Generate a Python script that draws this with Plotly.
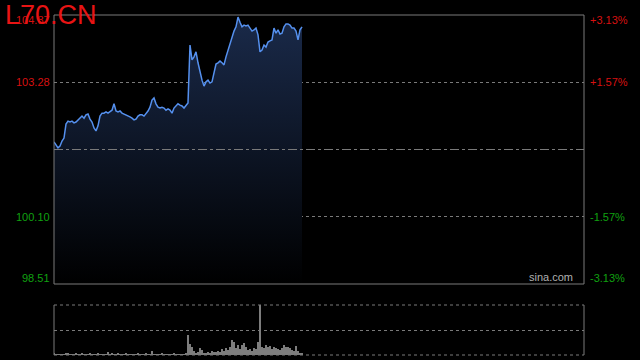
import plotly.graph_objects as go

title_text = "L70.CN"
base_price = 101.69
left_ticks = [98.51, 100.10, 103.28, 104.87]
right_ticks = ["-3.13%", "-1.57%", "+1.57%", "+3.13%"]
total_slots = 265

prices = [
    101.87, 101.80, 101.73, 101.77, 101.89, 101.96, 102.29, 102.36, 102.34, 102.36,
    102.32, 102.34, 102.39, 102.43, 102.48, 102.43, 102.51, 102.53, 102.41, 102.34,
    102.20, 102.13, 102.25, 102.48, 102.55, 102.55, 102.58, 102.55, 102.58, 102.62,
    102.77, 102.60, 102.58, 102.60, 102.55, 102.53, 102.51, 102.48, 102.46, 102.43,
    102.39, 102.41, 102.48, 102.51, 102.51, 102.48, 102.53, 102.60, 102.69, 102.86,
    102.91, 102.77, 102.69, 102.67, 102.69, 102.67, 102.62, 102.65, 102.62, 102.55,
    102.67, 102.72, 102.77, 102.74, 102.72, 102.67, 102.74, 102.79, 104.16, 103.81,
    103.88, 104.00, 103.74, 103.52, 103.33, 103.19, 103.29, 103.33, 103.26, 103.29,
    103.48, 103.71, 103.74, 103.78, 103.74, 103.69, 103.88, 104.04, 104.18, 104.33,
    104.49, 104.59, 104.82, 104.70, 104.59, 104.63, 104.61, 104.63, 104.56, 104.49,
    104.52, 104.56, 104.40, 104.00, 104.04, 104.16, 104.11, 104.23, 104.26, 104.28,
    104.56, 104.44, 104.52, 104.42, 104.44, 104.59, 104.66, 104.66, 104.63, 104.56,
    104.56, 104.49, 104.28, 104.52, 104.59,
]

volumes = [
    3, 2, 2, 1, 2, 1, 3, 4, 2, 1,
    2, 5, 2, 1, 3, 2, 1, 2, 3, 1,
    2, 1, 4, 2, 1, 2, 1, 6, 2, 3,
    1, 2, 4, 1, 2, 1, 3, 2, 1, 2,
    1, 2, 5, 1, 2, 1, 3, 2, 1, 9,
    2, 1, 2, 1, 3, 1, 2, 1, 2, 1,
    3, 2, 1, 2, 1, 2, 3,
    41, 22, 16, 8, 5, 6, 14, 10, 5, 4,
    6, 4, 8, 7, 6, 9, 7, 12, 8, 14,
    10, 16, 31, 27, 15, 20, 12, 20, 24, 16,
    10, 12, 9, 14, 12, 27, 100, 16, 14, 20,
    17, 18, 12, 16, 14, 12, 10, 14, 20, 16,
    17, 14, 10, 8, 18, 8, 5, 3,
]

n = min(len(prices), len(volumes))
prices = prices[:n]
volumes = volumes[:n]
xs = list(range(n))
ymin, ymax = left_ticks[0], left_ticks[-1]

RED = "#d81010"
GREEN = "#10a010"
GRAY = "#7a7a7a"

fig = go.Figure()
fig.add_trace(go.Scatter(x=xs, y=[ymin] * n, mode="lines", line=dict(width=0),
                         hoverinfo="skip", showlegend=False, xaxis="x", yaxis="y"))
fig.add_trace(go.Scatter(
    x=xs, y=prices, mode="lines", fill="tonexty",
    fillgradient=dict(type="vertical", start=ymin, stop=ymax,
                      colorscale=[[0, "rgb(0,0,0)"], [1, "rgb(26,42,74)"]]),
    line=dict(color="#5590ee", width=1.5), showlegend=False, xaxis="x", yaxis="y"))
fig.add_trace(go.Bar(x=xs, y=volumes, marker=dict(color="#7d7d7d", line=dict(width=0)),
                     width=0.5, showlegend=False, xaxis="x2", yaxis="y2"))

main_dom = [(355 - 284) / 340, 1]
vol_dom = [0, 50 / 340]

fig.update_layout(
    width=640, height=360,
    margin=dict(l=54, r=56, t=15, b=5),
    paper_bgcolor="black", plot_bgcolor="black",
    font=dict(family="Liberation Sans, Arial, sans-serif", size=11),
    bargap=0,
    xaxis=dict(domain=[0, 1], range=[0, total_slots], showgrid=False, zeroline=False,
               showticklabels=False, showline=False, fixedrange=True),
    yaxis=dict(domain=main_dom, range=[ymin, ymax], tickvals=[left_ticks[1], left_ticks[2]],
               showticklabels=False, showgrid=True, gridcolor=GRAY, griddash="dot",
               gridwidth=1, zeroline=False, showline=False),
    xaxis2=dict(domain=[0, 1], range=[0, total_slots], anchor="y2", showgrid=False,
                zeroline=False, showticklabels=False, showline=False),
    yaxis2=dict(domain=vol_dom, range=[0, max(volumes)], anchor="x2", tickvals=[max(volumes) / 2],
                showticklabels=False, showgrid=True, gridcolor=GRAY, griddash="dot",
                zeroline=False, showline=False),
    showlegend=False,
)

shapes = [
    dict(type="rect", xref="x domain", yref="y domain", x0=0, x1=1, y0=0, y1=1,
         line=dict(color=GRAY, width=1)),
    dict(type="line", xref="x domain", yref="y", x0=0, x1=1, y0=base_price, y1=base_price,
         line=dict(color=GRAY, width=1, dash="dashdot")),
    dict(type="line", xref="x2 domain", yref="y2 domain", x0=0, x1=1, y0=1, y1=1,
         line=dict(color=GRAY, width=1, dash="dot")),
    dict(type="line", xref="x2 domain", yref="y2 domain", x0=0, x1=1, y0=0, y1=0,
         line=dict(color=GRAY, width=1, dash="dot")),
    dict(type="line", xref="x2 domain", yref="y2 domain", x0=0, x1=0, y0=0, y1=1,
         line=dict(color=GRAY, width=1)),
    dict(type="line", xref="x2 domain", yref="y2 domain", x0=1, x1=1, y0=0, y1=1,
         line=dict(color=GRAY, width=1)),
]
fig.update_layout(shapes=shapes)

anns = []
for i, (v, r) in enumerate(zip(left_ticks, right_ticks)):
    col = GREEN if v < base_price else RED
    if i == 0:
        ya, ys = "bottom", -2
    elif i == len(left_ticks) - 1:
        ya, ys = "top", 3
    else:
        ya, ys = "middle", 0
    anns.append(dict(xref="paper", yref="y", x=0, y=v, xanchor="right", yanchor=ya,
                     xshift=-2, yshift=ys, text=f"{v:.2f}", showarrow=False,
                     font=dict(color=col, size=11)))
    anns.append(dict(xref="paper", yref="y", x=1, y=v, xanchor="left", yanchor=ya,
                     xshift=4, yshift=ys, text=r, showarrow=False, font=dict(color=col, size=11)))
anns.append(dict(xref="paper", yref="y", x=1, y=ymin, xanchor="right", yanchor="bottom",
                 xshift=-9, yshift=-1, text="sina.com", showarrow=False,
                 font=dict(color="#b0b0b0", size=11)))
anns.append(dict(xref="paper", yref="paper", x=-54 / 530, y=1, xanchor="left", yanchor="middle",
                 xshift=3, yshift=0, text=title_text, showarrow=False,
                 font=dict(color="#e81414", size=27)))
fig.update_layout(annotations=anns)

fig.write_html(
    "out.html",
    config={"displayModeBar": False},
    post_script="document.body.style.margin='0';document.body.style.background='black';",
)
